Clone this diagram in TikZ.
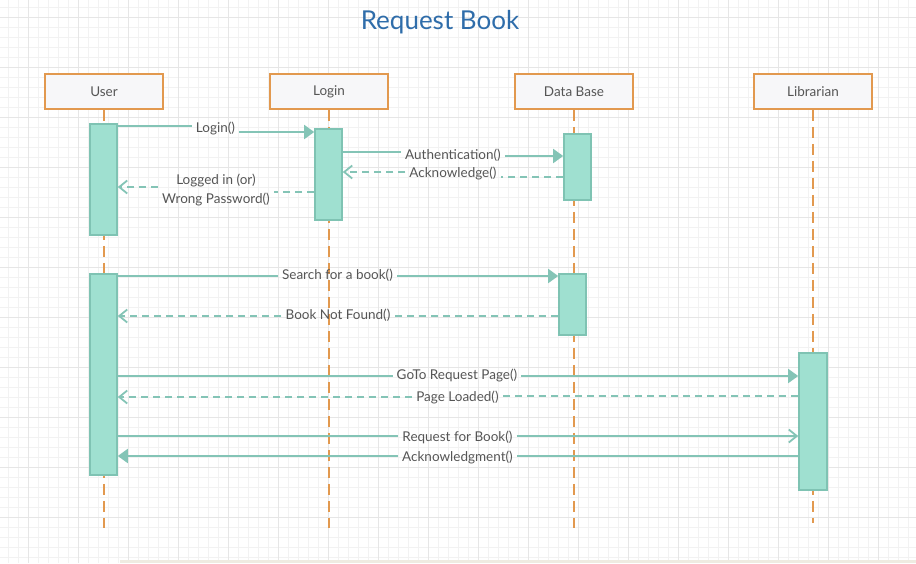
\documentclass[tikz,border=0pt]{standalone}
\usepackage{fontspec}
\setmainfont{Lato}
\usetikzlibrary{arrows.meta}
\definecolor{boxorange}{HTML}{E2994F}
\definecolor{headfill}{HTML}{F7F7F9}
\definecolor{actfill}{HTML}{9FE0D0}
\definecolor{actline}{HTML}{7FC3B3}
\definecolor{msgline}{HTML}{84C4B6}
\definecolor{txt}{HTML}{555555}
\definecolor{titleblue}{HTML}{2F6DAA}
\definecolor{gridlight}{HTML}{F2F2F2}
\definecolor{griddark}{HTML}{E6E6E6}
\definecolor{beige}{HTML}{EFEBE1}
\begin{document}
\begin{tikzpicture}[x=1pt,y=-1pt,
  head/.style={draw=boxorange,line width=1.6pt,fill=headfill,minimum width=118pt,minimum height=35pt,text=txt,font=\fontsize{13.5}{16}\selectfont},
  life/.style={draw=boxorange,line width=1.6pt,dash pattern=on 11pt off 6pt},
  act/.style={draw=actline,line width=1.6pt,fill=actfill,minimum width=27pt,inner sep=0pt},
  lbl/.style={text=txt,font=\fontsize{13.5}{18.5}\selectfont,inner xsep=4pt,inner ysep=1pt},
  msg/.style={draw=msgline,line width=1.8pt},
  ret/.style={msg,dash pattern=on 7pt off 5pt},
  sync/.style={-{Triangle[length=10pt,width=14pt]}},
  opentip/.style={-{Straight Barb[length=8pt,width=13pt]}}]
\useasboundingbox (0,0) rectangle (916,563);
\fill[white] (0,0) rectangle (916,563);
\foreach \x in {8,18,...,908} \draw[gridlight,line width=0.5pt] (\x,0) -- (\x,563);
\foreach \y in {7,17,...,557} \draw[gridlight,line width=0.5pt] (0,\y) -- (916,\y);
\foreach \x in {28,78,...,878} \draw[griddark,line width=0.6pt] (\x,0) -- (\x,563);
\foreach \y in {17,67,...,517} \draw[griddark,line width=0.6pt] (0,\y) -- (916,\y);
\fill[beige] (120,560) rectangle (916,563);

\node[text=titleblue,font=\fontsize{26}{31}\selectfont] (title) at (440,22) {Request Book};

\foreach \n/\x/\t/\e in {user/104/User/528,login/329/Login/528,db/574/Data Base/528,lib/813/Librarian/523} {
  \node[head] (\n) at (\x,91.5) {\t};
  \coordinate (\n-end) at (\x,\e);
  \draw[life] (\n.south) -- (\n-end);
}

\node[act,minimum height=111pt] (u1) at (103.5,179.5) {};
\node[act,minimum height=91pt] (l1) at (328.5,174.5) {};
\node[act,minimum height=66pt] (d1) at (577.5,167) {};
\node[act,minimum height=201pt] (u2) at (103.5,374.5) {};
\node[act,minimum height=61pt] (d2) at (572.5,304.5) {};
\node[act,minimum height=137pt,minimum width=28pt] (r1) at (813,421.5) {};

% login
\node[lbl] (m1) at (215.5,128) {Login()};
\draw[msg] (u1.east |- 0,126) -- (m1.west |- 0,126);
\draw[msg,sync] (m1.east |- 0,132) -- (l1.west |- 0,132);
\node[lbl] (m2) at (453,155) {Authentication()};
\draw[msg] (l1.east |- 0,152) -- (m2.west |- 0,152);
\draw[msg,sync] (m2.east |- 0,156) -- (d1.west |- 0,156);
\node[lbl] (m3) at (453,173) {Acknowledge()};
\draw[ret] (d1.west |- 0,177) -- (m3.east |- 0,177);
\draw[ret,opentip] (m3.west |- 0,172) -- (l1.east |- 0,172);
\node[lbl,align=center] (m4) at (216,190) {Logged in (or)\\Wrong Password()};
\draw[ret] (l1.west |- 0,192) -- (m4.east |- 0,192);
\draw[ret,opentip] (m4.west |- 0,187) -- (u1.east |- 0,187);

% search
\node[lbl] (m5) at (337.5,275.5) {Search for a book()};
\draw[msg] (u2.east |- 0,276) -- (m5.west |- 0,276);
\draw[msg,sync] (m5.east |- 0,276) -- (d2.west |- 0,276);
\node[lbl] (m6) at (338,315.5) {Book Not Found()};
\draw[ret] (d2.west |- 0,316) -- (m6.east |- 0,316);
\draw[ret,opentip] (m6.west |- 0,316) -- (u2.east |- 0,316);

% request
\node[lbl] (m7) at (457,375.5) {GoTo Request Page()};
\draw[msg] (u2.east |- 0,376) -- (m7.west |- 0,376);
\draw[msg,sync] (m7.east |- 0,376) -- (r1.west |- 0,376);
\node[lbl] (m8) at (457.5,397) {Page Loaded()};
\draw[ret] (r1.west |- 0,396) -- (m8.east |- 0,396);
\draw[ret,opentip] (m8.west |- 0,397) -- (u2.east |- 0,397);
\node[lbl] (m9) at (457.5,437) {Request for Book()};
\draw[msg] (u2.east |- 0,436) -- (m9.west |- 0,436);
\draw[msg,opentip] (m9.east |- 0,436) -- (r1.west |- 0,436);
\node[lbl] (m10) at (457.5,457) {Acknowledgment()};
\draw[msg] (r1.west |- 0,456) -- (m10.east |- 0,456);
\draw[msg,sync] (m10.west |- 0,456) -- (u2.east |- 0,456);
\end{tikzpicture}
\end{document}
